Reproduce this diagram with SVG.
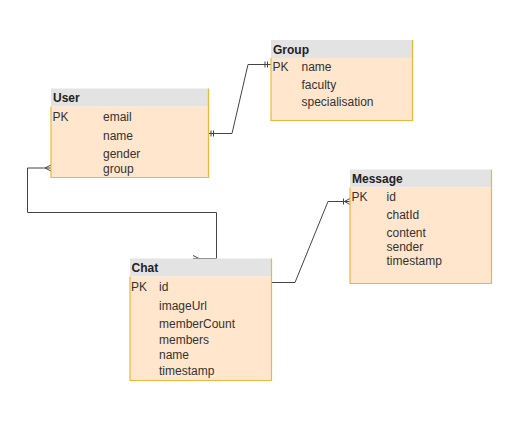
<svg xmlns="http://www.w3.org/2000/svg" width="531" height="429" viewBox="0 0 531 429">
<style>
.hdr{fill:#e3e3e3;stroke:none}
.body{fill:#ffe6cc;stroke:none}
.edge{fill:none;stroke:#efb63c;stroke-width:1.2}
text{font-family:"Liberation Sans",Arial,sans-serif;font-size:12px;fill:#333}
.title{font-weight:bold;fill:#222}
.conn{fill:none;stroke:#444;stroke-width:1}
</style>
<rect width="531" height="429" fill="#ffffff"/>
<g id="connectors">
  <path class="conn" d="M208.5,133.5 H232 L248,64.5 H271"/>
  <path class="conn" d="M211,130.5 V136.5 M213.5,130.5 V136.5 M265,61.5 V67.5 M267.5,61.5 V67.5"/>
  <path class="conn" d="M51,168 H27.5 V212.5 H216.5 V258.5 H193"/>
  <path class="conn" d="M51,165 L45,168 L51,171 M193,255.5 L199,258.5 L193,261.5"/>
  <path class="conn" d="M271.5,282.5 H295 L328,201.5 H350"/>
  <path class="conn" d="M343.5,198.5 V204.5 M350,198.5 L344.5,201.5 L350,204.5"/>
</g>
<g id="user">
  <rect class="hdr" x="51" y="88.5" width="157.5" height="18"/>
  <rect class="body" x="51" y="106.5" width="157.5" height="71"/>
  <path class="edge" d="M51,106.5 V177.5 H208.5 V88.5"/>
  <text class="title" x="53" y="101.5">User</text>
  <text x="52.5" y="120.5">PK</text>
  <text x="103" y="120.5">email</text>
  <text x="103" y="139.5">name</text>
  <text x="103" y="157.5">gender</text>
  <text x="103" y="173">group</text>
</g>
<g id="group">
  <rect class="hdr" x="271" y="40" width="141.5" height="18"/>
  <rect class="body" x="271" y="58" width="141.5" height="62.5"/>
  <path class="edge" d="M271,58 V120.5 H412.5 V40"/>
  <text class="title" x="273" y="53.5">Group</text>
  <text x="272.5" y="70.5">PK</text>
  <text x="301.5" y="70.5">name</text>
  <text x="301.5" y="88.5">faculty</text>
  <text x="301.5" y="106">specialisation</text>
</g>
<g id="message">
  <rect class="hdr" x="350" y="169.5" width="141.5" height="18"/>
  <rect class="body" x="350" y="187.5" width="141.5" height="96"/>
  <path class="edge" d="M350,187.5 V283.5 H491.5 V169.5"/>
  <text class="title" x="352" y="182.5">Message</text>
  <text x="351.5" y="200.5">PK</text>
  <text x="386.5" y="200.5">id</text>
  <text x="386.5" y="218.5">chatId</text>
  <text x="386.5" y="236.5">content</text>
  <text x="386.5" y="250.5">sender</text>
  <text x="386.5" y="265">timestamp</text>
</g>
<g id="chat">
  <rect class="hdr" x="130" y="258.5" width="141.5" height="18"/>
  <rect class="body" x="130" y="276.5" width="141.5" height="104"/>
  <path class="edge" d="M130,276.5 V380.5 H271.5 V258.5"/>
  <text class="title" x="131.5" y="271.5">Chat</text>
  <text x="131" y="290.5">PK</text>
  <text x="159" y="290.5">id</text>
  <text x="159" y="309.5">imageUrl</text>
  <text x="159" y="327.5">memberCount</text>
  <text x="159" y="343.5">members</text>
  <text x="159" y="359">name</text>
  <text x="159" y="374.5">timestamp</text>
</g>
</svg>
